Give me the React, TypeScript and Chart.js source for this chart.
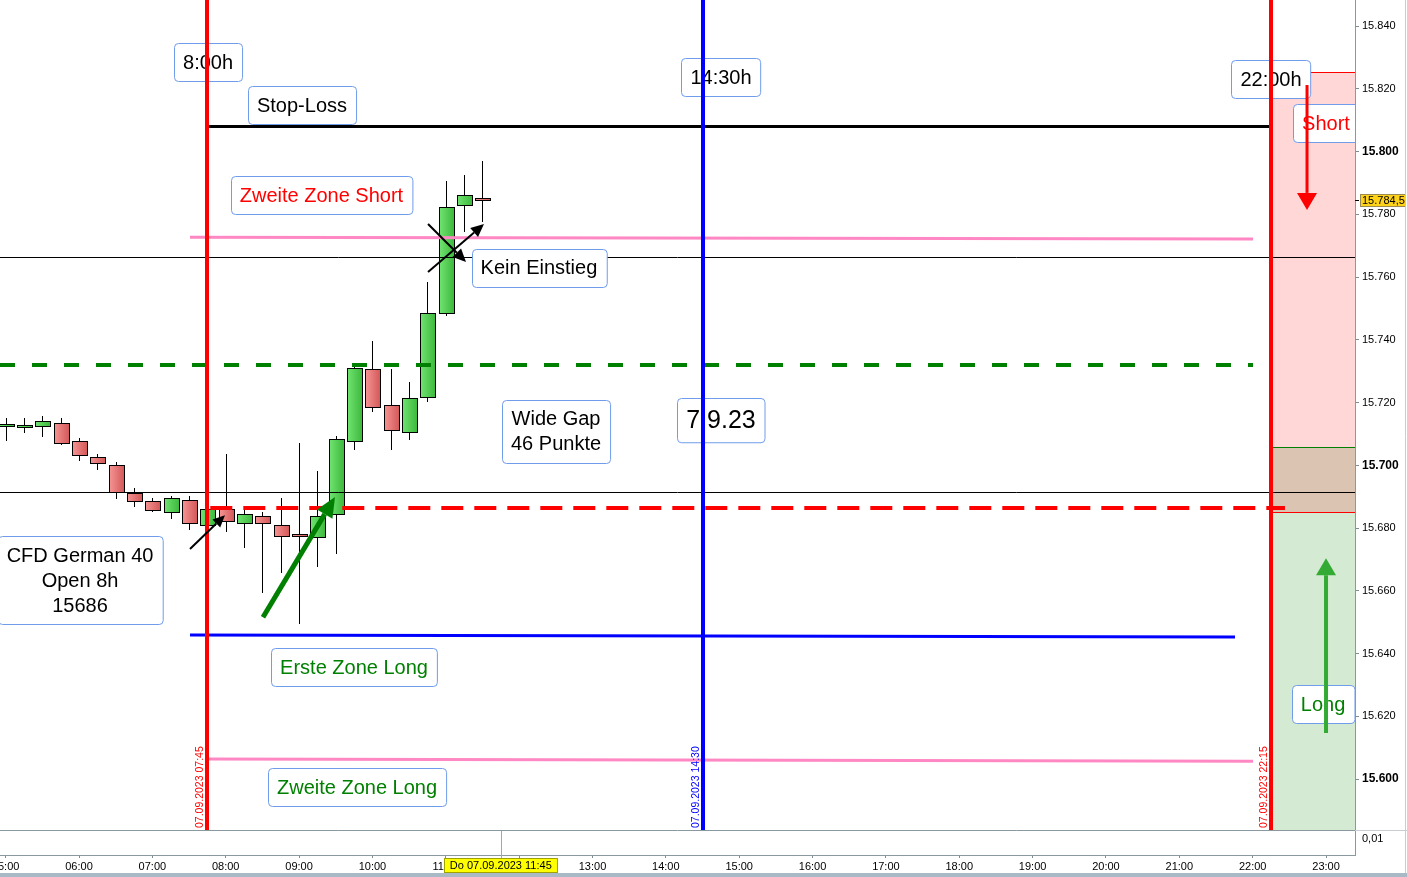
import React, { useEffect, useRef } from "react";
import { Chart, registerables } from "chart.js";

Chart.register(...registerables);

const FONT = "'Liberation Sans', Arial, Helvetica, sans-serif";

// ---- Candles: CFD German 40, 15-minute bars, 07.09.2023 ----
const candleTimes = [
  "05:00", "05:15", "05:30", "05:45", "06:00", "06:15", "06:30", "06:45", "07:00",
  "07:15", "07:30", "07:45", "08:00", "08:15", "08:30", "08:45", "09:00", "09:15",
  "09:30", "09:45", "10:00", "10:15", "10:30", "10:45", "11:00", "11:15", "11:30",
];
const opens = [
  15712.5, 15712.5, 15712.5, 15713.4, 15707.6, 15702.5, 15700.0, 15691.1, 15688.5,
  15685.0, 15689.1, 15681.0, 15686.0, 15681.5, 15684.0, 15680.9, 15678.0, 15677.0,
  15684.4, 15707.7, 15730.6, 15719.1, 15710.5, 15721.8, 15748.7, 15782.9, 15785.3,
];
const highs = [
  15715.0, 15715.0, 15715.7, 15715.0, 15708.7, 15703.6, 15701.0, 15692.7, 15689.6,
  15690.2, 15690.2, 15688.0, 15703.6, 15685.7, 15685.0, 15689.6, 15707.0, 15698.2,
  15709.3, 15731.5, 15739.6, 15730.7, 15726.5, 15758.3, 15790.6, 15792.5, 15797.0,
];
const lows = [
  15707.8, 15710.3, 15709.0, 15706.5, 15701.4, 15698.5, 15689.2, 15686.7, 15685.0,
  15682.9, 15679.4, 15679.0, 15678.8, 15673.6, 15659.4, 15665.8, 15649.3, 15667.5,
  15671.6, 15705.0, 15717.0, 15704.9, 15708.0, 15720.3, 15747.7, 15774.2, 15777.4,
];
const closes = [
  15713.1, 15713.0, 15714.1, 15707.0, 15703.2, 15700.6, 15691.4, 15688.5, 15685.6,
  15689.5, 15681.5, 15686.0, 15682.2, 15684.4, 15681.5, 15677.4, 15677.4, 15684.0,
  15708.3, 15730.9, 15718.5, 15711.2, 15721.3, 15748.4, 15782.4, 15786.0, 15784.5,
];

// ---- Axes ----
const xTickHours = [5, 6, 7, 8, 9, 10, 11, 12, 13, 14, 15, 16, 17, 18, 19, 20, 21, 22, 23];
const yTickValues = [15600, 15620, 15640, 15660, 15680, 15700, 15720, 15740, 15760, 15780, 15800, 15820, 15840];
const xRange = [4.923, 23.395];
const yRange = [15575.8, 15848.3];
const subPanelLabel = "0,01";

// ---- Levels (price) ----
const stopLoss = 15808;
const zweiteZoneShort = [15772.7, 15772.1];
const thinLineHigh = 15766.4;
const greenDashed = 15732;
const thinLineLow = 15691.5;
const openLevel = 15686.4;
const ersteZoneLong = [15645.9, 15645.3];
const zweiteZoneLong = [15606.4, 15605.7];
const shortZone = [15685.0, 15825.3];
const longZone = [15583.7, 15705.8];
const lastPrice = 15784.5;
const lastPriceLabel = "15.784,5";

// ---- Spans (hours) ----
const markerTimes = [7.75, 14.5, 22.25];
const markerLabels = ["07.09.2023 07:45", "07.09.2023 14:30", "07.09.2023 22:15"];
const zoneStart = 22.25;
const pinkSpan = [7.513, 22.005];
const greenDashSpan = [4.923, 22.005];
const openSpan = [7.75, 22.44];
const blueSpan = [7.513, 21.759];
const pink2Span = [7.75, 22.005];
const stopSpan = [7.75, 22.25];
const cursorTime = 11.75;
const cursorLabel = "Do 07.09.2023 11:45";

// ---- Annotations: [hour, price] ----
const annTexts = [
  ["8:00h"], ["Stop-Loss"], ["14:30h"], ["22:00h"], ["Short"], ["Zweite Zone Short"],
  ["Kein Einstieg"], ["Wide Gap", "46 Punkte"], ["7.9.23"], ["CFD German 40", "Open 8h", "15686"],
  ["Erste Zone Long"], ["Zweite Zone Long"], ["Long"],
];
const annHours = [7.759, 9.04, 14.752, 22.25, 23.0, 9.305, 12.27, 12.503, 14.752, 6.014, 9.749, 9.79, 22.959];
const annPrices = [15828.5, 15814.8, 15823.7, 15823.1, 15809.1, 15786.1, 15762.9, 15710.9, 15714.4, 15663.4, 15635.7, 15597.4, 15623.9];
const annColors = ["#000", "#000", "#000", "#000", "#ff0000", "#ff0000", "#000", "#000", "#000", "#000", "#008000", "#008000", "#008000"];

// ---- Arrows: [fromHour, fromPrice, toHour, toPrice] ----
const arrowOpen = [7.513, 15673.3, 7.99, 15684.1];
const arrowLong = [8.508, 15651.6, 9.49, 15689.9];
const arrowNoEntryA = [10.758, 15776.9, 11.276, 15764.8];
const arrowNoEntryB = [10.758, 15761.6, 11.521, 15776.9];
const arrowShort = [22.741, 15821.2, 22.741, 15781.4];
const arrowLongZone = [23.0, 15614.7, 23.0, 15670.4];

const toHour = (s: string) => {
  const [h, m] = s.split(":").map(Number);
  return h + m / 60;
};

function drawArrow(ctx: CanvasRenderingContext2D, x1: number, y1: number, x2: number, y2: number,
  w: number, headLen: number, headHalf: number, color: string) {
  const ang = Math.atan2(y2 - y1, x2 - x1);
  const bx = x2 - headLen * Math.cos(ang);
  const by = y2 - headLen * Math.sin(ang);
  ctx.strokeStyle = color;
  ctx.lineWidth = w;
  ctx.setLineDash([]);
  ctx.beginPath();
  ctx.moveTo(x1, y1);
  ctx.lineTo(bx, by);
  ctx.stroke();
  ctx.fillStyle = color;
  ctx.beginPath();
  ctx.moveTo(x2, y2);
  ctx.lineTo(bx + headHalf * Math.sin(ang), by - headHalf * Math.cos(ang));
  ctx.lineTo(bx - headHalf * Math.sin(ang), by + headHalf * Math.cos(ang));
  ctx.closePath();
  ctx.fill();
}

function drawBox(ctx: CanvasRenderingContext2D, lines: string[], cx: number, cy: number, color: string, size: number) {
  ctx.font = `${size}px ${FONT}`;
  const lh = size * 1.25;
  const w = Math.max(...lines.map((l) => ctx.measureText(l).width)) + 18;
  const h = lines.length * lh + 13;
  const x0 = Math.round(cx - w / 2) + 0.5;
  const y0 = Math.round(cy - h / 2) + 0.5;
  ctx.fillStyle = "#ffffff";
  ctx.strokeStyle = "#6f9ceb";
  ctx.lineWidth = 1;
  ctx.setLineDash([]);
  ctx.beginPath();
  if ((ctx as any).roundRect) (ctx as any).roundRect(x0, y0, w, h, 4);
  else ctx.rect(x0, y0, w, h);
  ctx.fill();
  ctx.stroke();
  ctx.fillStyle = color;
  ctx.textAlign = "center";
  ctx.textBaseline = "middle";
  lines.forEach((l, i) => ctx.fillText(l, cx, cy + (i - (lines.length - 1) / 2) * lh + 1));
}

const overlayPlugin = {
  id: "overlay",
  afterDraw(chart: any) {
    const { ctx, chartArea: a, scales } = chart;
    const xs = scales.x;
    const ys = scales.y;
    const X = (v: number) => xs.getPixelForValue(v);
    const Y = (v: number) => ys.getPixelForValue(v);
    const div = a.bottom - 25;
    const W = chart.width;
    const H = chart.height;

    ctx.save();
    ctx.beginPath();
    ctx.rect(a.left, a.top, a.right - a.left, div - a.top);
    ctx.clip();

    // zones
    const zx = X(zoneStart);
    ctx.fillStyle = "rgb(255,215,215)";
    ctx.fillRect(zx, Y(shortZone[1]), a.right - zx, Y(shortZone[0]) - Y(shortZone[1]));
    ctx.fillStyle = "rgb(213,234,211)";
    ctx.fillRect(zx, Y(longZone[1]), a.right - zx, Y(longZone[0]) - Y(longZone[1]));
    ctx.fillStyle = "rgb(219,196,178)";
    ctx.fillRect(zx, Y(longZone[1]), a.right - zx, Y(shortZone[0]) - Y(longZone[1]));
    ctx.lineWidth = 1;
    ctx.strokeStyle = "#ff0000";
    [shortZone[1], shortZone[0]].forEach((v) => {
      ctx.beginPath();
      ctx.moveTo(zx, Math.round(Y(v)) + 0.5);
      ctx.lineTo(a.right, Math.round(Y(v)) + 0.5);
      ctx.stroke();
    });
    ctx.strokeStyle = "#008000";
    ctx.beginPath();
    ctx.moveTo(zx, Math.round(Y(longZone[1])) + 0.5);
    ctx.lineTo(a.right, Math.round(Y(longZone[1])) + 0.5);
    ctx.stroke();

    // candles
    candleTimes.forEach((t, i) => {
      const h = toHour(t);
      const cx = Math.round(X(h)) + 0.5;
      const half = (X(h + 0.25) - X(h)) * 0.43;
      const o = opens[i], c = closes[i];
      ctx.strokeStyle = "#000";
      ctx.lineWidth = 1;
      ctx.beginPath();
      ctx.moveTo(cx, Math.round(Y(highs[i])));
      ctx.lineTo(cx, Math.round(Y(lows[i])));
      ctx.stroke();
      const top = Math.round(Y(Math.max(o, c))) + 0.5;
      const bot = Math.round(Y(Math.min(o, c))) + 0.5;
      const left = Math.round(cx - half) + 0.5;
      const right = Math.round(cx + half) + 0.5;
      const up = c >= o;
      const g = ctx.createLinearGradient(left, 0, right, 0);
      if (up) {
        g.addColorStop(0, "#70e370");
        g.addColorStop(1, "#3cb83c");
      } else {
        g.addColorStop(0, "#f69494");
        g.addColorStop(1, "#d35757");
      }
      ctx.fillStyle = g;
      const bh = Math.max(bot - top, 2);
      ctx.fillRect(left, top, right - left, bh);
      ctx.strokeRect(left, top, right - left, bh);
    });

    // horizontal lines
    const hline = (x1: number, x2: number, v1: number, v2: number, color: string, w: number, dash: number[] = []) => {
      ctx.strokeStyle = color;
      ctx.lineWidth = w;
      ctx.setLineDash(dash);
      ctx.beginPath();
      ctx.moveTo(X(x1), Y(v1));
      ctx.lineTo(X(x2), Y(v2));
      ctx.stroke();
      ctx.setLineDash([]);
    };
    const crisp = (v: number, color: string) => {
      const py = Math.round(Y(v)) + 0.5;
      ctx.strokeStyle = color;
      ctx.lineWidth = 1;
      ctx.beginPath();
      ctx.moveTo(a.left, py);
      ctx.lineTo(a.right, py);
      ctx.stroke();
    };
    ctx.lineCap = "butt";
    crisp(thinLineHigh, "#000");
    crisp(thinLineLow, "#000");
    hline(stopSpan[0], stopSpan[1], stopLoss, stopLoss, "#000", 3);
    hline(pinkSpan[0], pinkSpan[1], zweiteZoneShort[0], zweiteZoneShort[1], "#ff88c4", 3);
    hline(greenDashSpan[0], greenDashSpan[1], greenDashed, greenDashed, "#008000", 4, [15, 17]);
    hline(openSpan[0] + 0.04, openSpan[1], openLevel, openLevel, "#ff0000", 4, [22, 11]);
    hline(blueSpan[0], blueSpan[1], ersteZoneLong[0], ersteZoneLong[1], "#0000ff", 3);
    hline(pink2Span[0], pink2Span[1], zweiteZoneLong[0], zweiteZoneLong[1], "#ff88c4", 3);

    // annotation boxes
    annTexts.forEach((lines, i) => {
      const size = lines[0] === "7.9.23" ? 25 : 20;
      drawBox(ctx, lines, X(annHours[i]), Y(annPrices[i]), annColors[i], size);
    });

    // vertical marker lines
    markerTimes.forEach((t, i) => {
      ctx.strokeStyle = i === 1 ? "#0000ff" : "#ff0000";
      ctx.lineWidth = 4;
      ctx.beginPath();
      ctx.moveTo(Math.round(X(t)), a.top);
      ctx.lineTo(Math.round(X(t)), div);
      ctx.stroke();
    });

    // arrows
    const arr = (p: number[], w: number, hl: number, hh: number, color: string) =>
      drawArrow(ctx, X(p[0]), Y(p[1]), X(p[2]), Y(p[3]), w, hl, hh, color);
    arr(arrowOpen, 2, 12, 5.5, "#000");
    arr(arrowNoEntryA, 2, 13, 6, "#000");
    arr(arrowNoEntryB, 2, 13, 6, "#000");
    arr(arrowLong, 5, 20, 9, "#008000");
    arr(arrowShort, 3, 17, 10, "#ff0000");
    arr(arrowLongZone, 4, 17, 10, "#33aa33");

    // rotated marker labels
    ctx.font = `10.5px ${FONT}`;
    markerTimes.forEach((t, i) => {
      ctx.save();
      ctx.translate(Math.round(X(t)) - 4, div - 2);
      ctx.rotate(-Math.PI / 2);
      ctx.fillStyle = i === 1 ? "#0000ff" : "#ff0000";
      ctx.textAlign = "left";
      ctx.textBaseline = "alphabetic";
      ctx.fillText(markerLabels[i], 0, 0);
      ctx.restore();
    });
    ctx.restore();

    // sub panel
    ctx.save();
    ctx.lineWidth = 1;
    ctx.strokeStyle = "#8a989f";
    ctx.beginPath();
    ctx.moveTo(a.left, div + 0.5);
    ctx.lineTo(a.right, div + 0.5);
    ctx.stroke();
    ctx.strokeStyle = "#c8cdd0";
    ctx.beginPath();
    ctx.moveTo(a.right, div + 0.5);
    ctx.lineTo(W, div + 0.5);
    ctx.stroke();
    // cursor line
    const cx = Math.round(X(cursorTime)) + 0.5;
    ctx.strokeStyle = "#ff8080";
    ctx.beginPath();
    ctx.moveTo(cx, div + 1);
    ctx.lineTo(cx, a.bottom + 3);
    ctx.stroke();
    ctx.fillStyle = "#000";
    ctx.font = `11px ${FONT}`;
    ctx.textAlign = "left";
    ctx.textBaseline = "middle";
    ctx.fillText(subPanelLabel, a.right + 7, div + 9);

    // last price box
    const py = Math.round(Y(lastPrice));
    ctx.strokeStyle = "#000";
    ctx.beginPath();
    ctx.moveTo(a.right, py + 0.5);
    ctx.lineTo(a.right + 4, py + 0.5);
    ctx.stroke();
    ctx.fillStyle = "#ffd21a";
    ctx.fillRect(a.right + 5, py - 6, 45, 13);
    ctx.strokeStyle = "#9a8a50";
    ctx.strokeRect(a.right + 5.5, py - 5.5, 45, 12);
    ctx.fillStyle = "#000";
    ctx.font = `11px ${FONT}`;
    ctx.fillText(lastPriceLabel, a.right + 7, py + 1);

    // cursor date box
    ctx.font = `11px ${FONT}`;
    const tw = ctx.measureText(cursorLabel).width + 12;
    const bx = Math.round(X(cursorTime) - tw / 2);
    ctx.fillStyle = "#ffff00";
    ctx.fillRect(bx, a.bottom + 3, tw, 15);
    ctx.strokeStyle = "#a0a000";
    ctx.strokeRect(bx + 0.5, a.bottom + 3.5, tw - 1, 14);
    ctx.fillStyle = "#000";
    ctx.textAlign = "center";
    ctx.fillText(cursorLabel, X(cursorTime), a.bottom + 11);

    // window frame
    ctx.strokeStyle = "#c8cdd0";
    ctx.beginPath();
    ctx.moveTo(W - 1.5, 0);
    ctx.lineTo(W - 1.5, H - 4);
    ctx.stroke();
    ctx.fillStyle = "#a9bac6";
    ctx.fillRect(0, H - 4, W, 4);
    ctx.restore();
  },
};

export default function App() {
  const ref = useRef<HTMLCanvasElement | null>(null);

  useEffect(() => {
    if (!ref.current) return;
    Chart.defaults.font.family = FONT;
    const chart = new Chart(ref.current, {
      type: "scatter",
      data: {
        datasets: [
          {
            label: "CFD German 40",
            data: candleTimes.map((t, i) => ({ x: toHour(t), y: closes[i] })),
            pointRadius: 0,
            showLine: false,
          },
        ],
      },
      options: {
        responsive: false,
        animation: false,
        events: [],
        layout: { padding: 0 },
        plugins: { legend: { display: false }, tooltip: { enabled: false } },
        scales: {
          x: {
            type: "linear",
            min: xRange[0],
            max: xRange[1],
            afterBuildTicks: (s: any) => {
              s.ticks = xTickHours.map((v) => ({ value: v }));
            },
            afterFit: (s: any) => {
              s.height = 22;
              s.paddingLeft = 0;
              s.paddingRight = 0;
            },
            grid: { drawOnChartArea: false, color: "#7f8c92", tickLength: 3 },
            border: { color: "#8a989f" },
            ticks: {
              autoSkip: false,
              maxRotation: 0,
              padding: 2,
              color: "#000",
              font: { size: 11 },
              callback: (v: any) => String(v).padStart(2, "0") + ":00",
            },
          },
          y: {
            type: "linear",
            position: "right",
            min: yRange[0],
            max: yRange[1],
            afterBuildTicks: (s: any) => {
              s.ticks = yTickValues.map((v) => ({ value: v }));
            },
            afterFit: (s: any) => {
              s.width = 52;
              s.paddingTop = 0;
              s.paddingBottom = 0;
            },
            grid: { drawOnChartArea: false, color: "#7f8c92", tickLength: 4 },
            border: { color: "#8a989f" },
            ticks: {
              padding: 3,
              color: "#000",
              font: (c: any) =>
                c.tick && c.tick.value % 100 === 0 ? { size: 12, weight: "bold" } : { size: 11 },
              callback: (v: any) => (Number(v) / 1000).toFixed(3),
            },
          },
        },
      },
      plugins: [overlayPlugin],
    } as any);
    return () => chart.destroy();
  }, []);

  return (
    <div style={{ position: "fixed", left: 0, top: 0, width: 1407, height: 877, background: "#fff" }}>
      <canvas ref={ref} width={1407} height={877} style={{ display: "block", width: 1407, height: 877 }} />
    </div>
  );
}
